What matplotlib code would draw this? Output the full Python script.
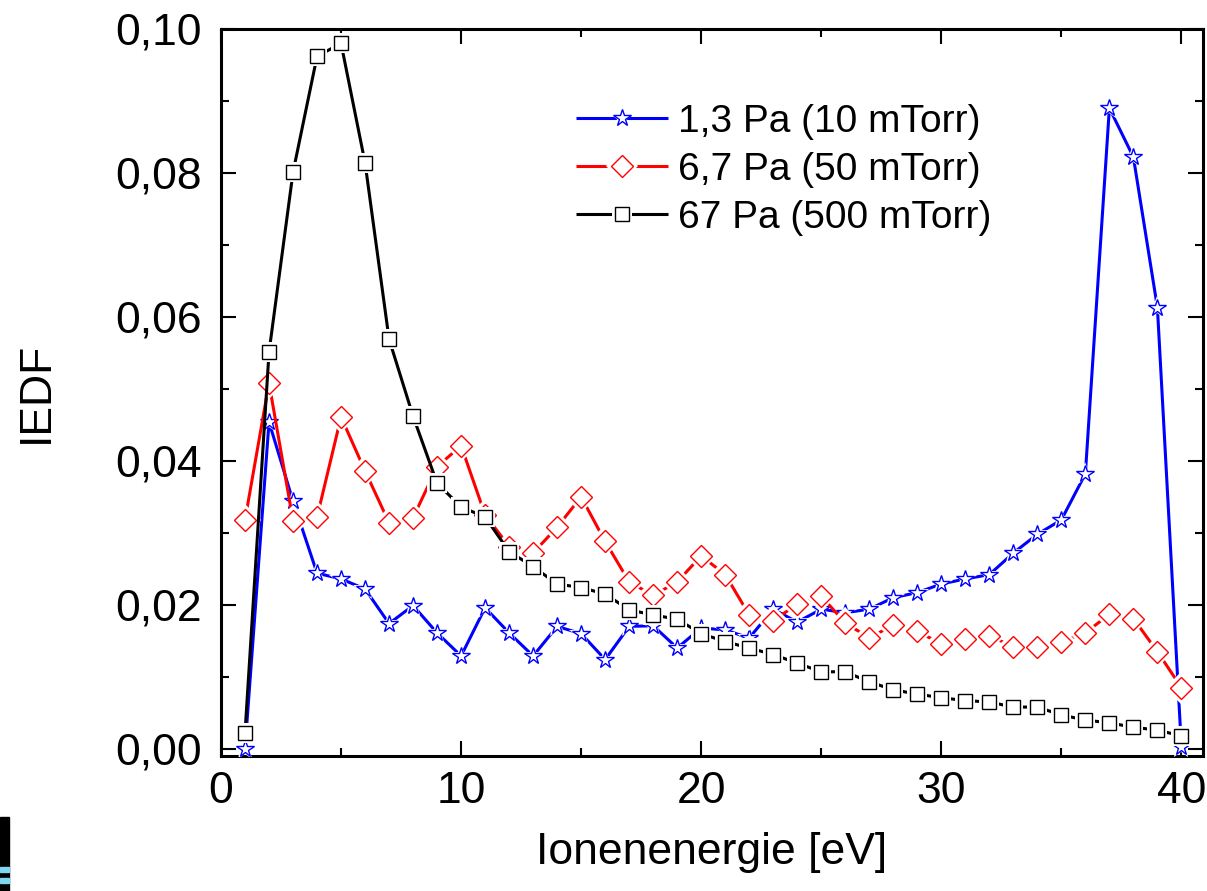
import numpy as np
import matplotlib
matplotlib.use('Agg')
import matplotlib.pyplot as plt
from matplotlib.ticker import MultipleLocator, FuncFormatter
from matplotlib.patches import Rectangle

plt.rcParams['font.family'] = ['Liberation Sans', 'DejaVu Sans']

energy = np.arange(1, 41)

iedf_10mtorr = [0.0, 0.0454, 0.0344, 0.0244, 0.0236, 0.0222, 0.0174, 0.0199, 0.0161, 0.0129,
                0.0196, 0.0161, 0.0129, 0.0170, 0.0160, 0.0124, 0.0170, 0.0171, 0.0140, 0.0168,
                0.0165, 0.0154, 0.0194, 0.0176, 0.0194, 0.0189, 0.0194, 0.0210, 0.0217, 0.0229,
                0.0236, 0.0242, 0.0272, 0.0298, 0.0318, 0.0382, 0.0890, 0.0822, 0.0613, 0.0002]

iedf_50mtorr = [0.0318, 0.0508, 0.0317, 0.0322, 0.0461, 0.0386, 0.0314, 0.0321, 0.0392, 0.0421,
                0.0325, 0.0281, 0.0272, 0.0308, 0.0350, 0.0288, 0.0232, 0.0213, 0.0232, 0.0268,
                0.0242, 0.0186, 0.0178, 0.0201, 0.0212, 0.0175, 0.0154, 0.0172, 0.0163, 0.0146,
                0.0153, 0.0157, 0.0142, 0.0142, 0.0149, 0.0161, 0.0187, 0.0181, 0.0135, 0.0085]

iedf_500mtorr = [0.0022, 0.0551, 0.0801, 0.0962, 0.0980, 0.0814, 0.0569, 0.0462, 0.0369, 0.0336,
                 0.0322, 0.0274, 0.0253, 0.0229, 0.0224, 0.0215, 0.0193, 0.0186, 0.0180, 0.0160,
                 0.0149, 0.0140, 0.0131, 0.0119, 0.0107, 0.0107, 0.0093, 0.0082, 0.0076, 0.0071,
                 0.0067, 0.0065, 0.0058, 0.0058, 0.0047, 0.0040, 0.0036, 0.0030, 0.0026, 0.0018]

labels = ['1,3 Pa (10 mTorr)', '6,7 Pa (50 mTorr)', '67 Pa (500 mTorr)']
colors = ['#0000ff', '#ff0000', '#000000']
markers = ['*', 'D', 's']
msizes = [13, 11.5, 10]

fig = plt.figure(figsize=(12.07, 8.91), dpi=100)
ax = fig.add_axes([0.1831, 0.1515, 0.9967 - 0.1831, 0.9675 - 0.1515])

handles = []
series = [iedf_10mtorr, iedf_50mtorr, iedf_500mtorr]
for i, (vals, col, mk, ms) in enumerate(zip(series, colors, markers, msizes)):
    z = 2 + i * 3
    line, = ax.plot(energy, vals, color=col, lw=2.2, zorder=z, solid_capstyle='butt')
    # white halo gives the Origin-style gap between line and symbol
    halo, = ax.plot(energy, vals, ls='none', marker=mk, ms=ms + 5, mfc='white', mec='white',
                    mew=0, zorder=z + 1)
    pts, = ax.plot(energy, vals, ls='none', marker=mk, ms=ms, mfc='white', mec=col,
                   mew=1.0, zorder=z + 2)
    handles.append((line, halo, pts))

ax.set_xlim(0, 40.9)
ax.set_ylim(-0.001, 0.10)

ax.xaxis.set_major_locator(MultipleLocator(10))
ax.xaxis.set_minor_locator(MultipleLocator(5))
ax.yaxis.set_major_locator(MultipleLocator(0.02))
ax.yaxis.set_minor_locator(MultipleLocator(0.01))
ax.yaxis.set_major_formatter(FuncFormatter(lambda v, p: f'{v:.2f}'.replace('.', ',')))
ax.xaxis.set_major_formatter(FuncFormatter(lambda v, p: f'{v:.0f}'))

ax.tick_params(which='both', direction='in', top=True, right=True, width=1.5, labelsize=32)
ax.tick_params(which='major', length=11)
ax.tick_params(which='minor', length=6)
ax.tick_params(axis='y', which='major', pad=14)
ax.tick_params(axis='x', which='major', pad=11)
for s in ax.spines.values():
    s.set_linewidth(2.2)

ax.set_xlabel('Ionenenergie [eV]', fontsize=32, labelpad=14)
ax.set_ylabel('IEDF', fontsize=32, labelpad=42)

ax.legend(handles, labels, loc='upper left', bbox_to_anchor=(0.362, 0.897), frameon=False,
          fontsize=28, handlelength=2.35, handletextpad=0.25, labelspacing=0.31, borderpad=0,
          borderaxespad=0)

# bit of a logo peeking in at the lower left corner
fig.patches.append(Rectangle((0, 0), 9 / 1207, 74 / 891, transform=fig.transFigure,
                             color='black', zorder=0))
fig.patches.append(Rectangle((0, 8 / 891), 9 / 1207, 5 / 891, transform=fig.transFigure,
                             color='#7fd6f0', zorder=1))
fig.patches.append(Rectangle((0, 19 / 891), 9 / 1207, 5 / 891, transform=fig.transFigure,
                             color='#7fd6f0', zorder=1))

fig.savefig('out.png', dpi=100)
